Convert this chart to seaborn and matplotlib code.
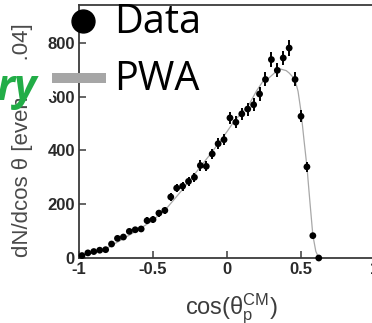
import numpy as np
import pandas as pd
import seaborn as sns
import matplotlib
matplotlib.use("Agg")
import matplotlib.pyplot as plt
from matplotlib.lines import Line2D
from matplotlib.patches import Rectangle

# Proton angular distribution in the CM frame, 0.04-wide bins
cos_theta = [-0.98, -0.94, -0.90, -0.86, -0.82, -0.78, -0.74, -0.70, -0.66, -0.62,
             -0.58, -0.54, -0.50, -0.46, -0.42, -0.38, -0.34, -0.30, -0.26, -0.22,
             -0.18, -0.14, -0.10, -0.06, -0.02, 0.02, 0.06, 0.10, 0.14, 0.18,
             0.22, 0.26, 0.30, 0.34, 0.38, 0.42, 0.46, 0.50, 0.54, 0.58, 0.62]
counts = [9, 19, 24, 29, 31, 52, 73, 78, 99, 105,
          108, 139, 143, 167, 177, 227, 260, 267, 285, 300,
          344, 341, 387, 425, 440, 521, 505, 536, 554, 570,
          610, 664, 738, 698, 744, 781, 664, 527, 339, 83, 0]
count_err = [3, 4, 5, 5, 6, 7, 9, 9, 10, 10,
             10, 12, 12, 13, 13, 15, 16, 16, 17, 17,
             19, 18, 20, 21, 21, 23, 22, 23, 24, 24,
             25, 26, 27, 26, 27, 28, 26, 23, 18, 9, 0]

# Partial-wave-analysis fit
pwa_x = [-1.00, -0.90, -0.80, -0.70, -0.60, -0.50, -0.40, -0.30, -0.20, -0.10,
         0.00, 0.05, 0.10, 0.15, 0.20, 0.24, 0.28, 0.32, 0.36, 0.40,
         0.42, 0.44, 0.46, 0.48, 0.50, 0.52, 0.54, 0.56, 0.58, 0.60, 0.62]
pwa_y = [5, 22, 40, 72, 105, 140, 190, 255, 325, 395,
         470, 510, 540, 572, 622, 655, 668, 688, 703, 697,
         688, 676, 662, 620, 545, 440, 340, 210, 85, 25, 0]

x_ticks = [-1, -0.5, 0, 0.5, 1]
x_tick_labels = ["-1", "-0.5", "0", "0.5", "1"]
y_ticks = [0, 200, 400, 600, 800]

data = pd.DataFrame({"cos": cos_theta, "n": counts, "err": count_err})
fit = pd.DataFrame({"cos": pwa_x, "n": pwa_y})

sns.set_style("ticks")
plt.rcParams["font.family"] = ["Liberation Sans", "DejaVu Sans"]
plt.rcParams["mathtext.fontset"] = "custom"
plt.rcParams["mathtext.rm"] = "Liberation Sans"
plt.rcParams["mathtext.it"] = "Liberation Sans:italic"
plt.rcParams["mathtext.default"] = "regular"

W, H = 372, 323
fig = plt.figure(figsize=(W / 100, H / 100), dpi=100)


def fx(px):
    return px / W


def fy(py):
    return 1 - py / H


ax = fig.add_axes([fx(79), fy(258), (375 - 79) / W, (258 - 5) / H])

sns.lineplot(data=fit, x="cos", y="n", ax=ax, color="#a8a8a8", lw=0.9,
             zorder=2, legend=False)
ax.errorbar(data["cos"], data["n"], yerr=data["err"], fmt="none",
            ecolor="black", elinewidth=1.4, capsize=0, zorder=3)
sns.scatterplot(data=data, x="cos", y="n", ax=ax, color="black", s=24,
                edgecolor="none", zorder=4, clip_on=False, legend=False)

ax.set_xlim(-1, 1)
ax.set_ylim(0, 941)
ax.set_xticks(x_ticks)
ax.set_xticklabels(x_tick_labels)
ax.set_yticks(y_ticks)

spine_col = "#3a3a3a"
for s in ax.spines.values():
    s.set_color(spine_col)
    s.set_linewidth(1.3)
ax.tick_params(direction="in", length=5, width=1.1, color=spine_col,
               labelcolor="#2a2a2a", labelsize=12, pad=3)
for lab in ax.get_xticklabels() + ax.get_yticklabels():
    lab.set_fontweight("bold")

ax.set_xlabel(r"cos($\theta_{\mathrm{p}}^{\mathrm{CM}}$)", fontsize=17,
              color="#3c3c3c")
ax.xaxis.label.set_va("baseline")
ax.xaxis.set_label_coords((231 - 79) / 296, (258 - 314) / 253)

ax.set_ylabel("dN/dcos \u03b8 [events/0.04]", fontsize=16, color="#4a4a4a")
ax.yaxis.label.set_va("center")
ax.yaxis.set_label_coords((23 - 79) / 296, (258 - 140) / 253)

# Overlay box behind the slide annotation
fig.add_artist(Rectangle((fx(0), fy(99)), fx(53), (99 - 62) / H,
                         transform=fig.transFigure, facecolor="white",
                         edgecolor="none", zorder=5))
fig.text(fx(37), fy(100), "ry", transform=fig.transFigure, ha="right",
         va="baseline", fontsize=31, fontweight="bold", style="italic",
         color="#22ad47", family=["Open Sans", "DejaVu Sans"], zorder=6)

# Legend
fig.add_artist(Line2D([fx(83)], [fy(21)], marker="o", ms=16.5, color="black",
                      transform=fig.transFigure, zorder=7))
fig.add_artist(Line2D([fx(52), fx(106)], [fy(78), fy(78)], lw=7.2,
                      color="#a6a6a6", solid_capstyle="butt",
                      transform=fig.transFigure, zorder=7))
fig.text(fx(114), fy(33), "Data", ha="left", va="baseline", fontsize=28.5,
         color="black", family=["Open Sans", "DejaVu Sans"], zorder=7)
fig.text(fx(114), fy(90), "PWA", ha="left", va="baseline", fontsize=28.5,
         color="black", family=["Open Sans", "DejaVu Sans"], zorder=7)

fig.savefig("out.png", dpi=100)
